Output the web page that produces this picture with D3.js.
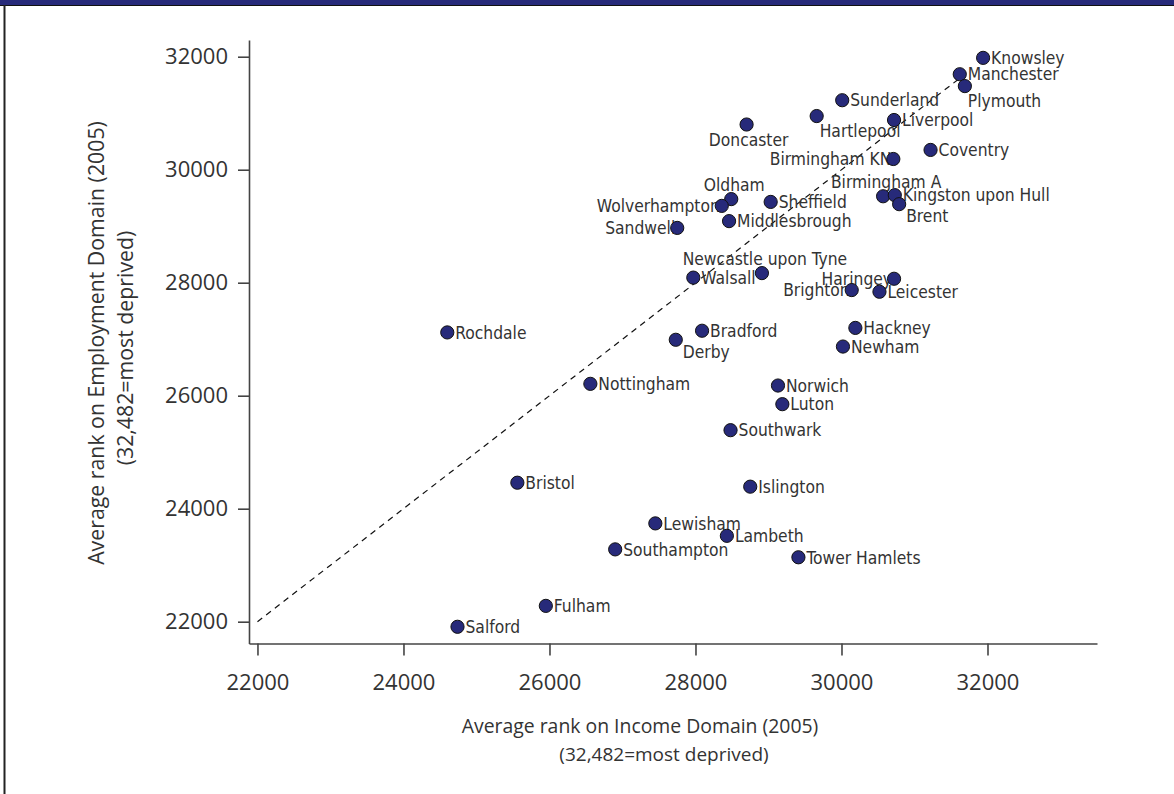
<!DOCTYPE html>
<html lang="en">
<head>
<meta charset="UTF-8">
<script src="https://cdn.jsdelivr.net/npm/d3@7"></script>
<title>Income vs employment rank</title>
<style>
  body { margin: 0; background: #fff; }
  svg { display: block; }
</style>
</head>
<body>
<svg width="1174" height="794"></svg>
<script>
// local authorities, average rank on income (x) and employment (y), 2005
const areas = ['Knowsley', 'Manchester', 'Plymouth', 'Sunderland', 'Hartlepool', 'Liverpool',
  'Doncaster', 'Coventry', 'Birmingham KN', 'Birmingham A', 'Kingston upon Hull', 'Brent',
  'Oldham', 'Wolverhampton', 'Sheffield', 'Middlesbrough', 'Sandwell', 'Newcastle upon Tyne',
  'Walsall', 'Haringey', 'Brighton', 'Leicester', 'Hackney', 'Newham', 'Bradford', 'Derby',
  'Nottingham', 'Norwich', 'Luton', 'Southwark', 'Rochdale', 'Bristol', 'Fulham', 'Salford',
  'Islington', 'Lewisham', 'Lambeth', 'Southampton', 'Tower Hamlets'];
const incomeRank = [31940, 31620, 31690, 30010, 29660, 30720,
  28700, 31220, 30710, 30570, 30730, 30790,
  28490, 28360, 29030, 28460, 27750, 28910,
  27970, 30720, 30140, 30520, 30190, 30020, 28090, 27730,
  26560, 29130, 29190, 28480, 24600, 25560, 25950, 24740,
  28750, 27450, 28430, 26900, 29410];
const employmentRank = [31980, 31690, 31480, 31230, 30950, 30880,
  30800, 30350, 30190, 29530, 29550, 29390,
  29480, 29360, 29430, 29090, 28970, 28170,
  28090, 28070, 27870, 27840, 27200, 26870, 27150, 26990,
  26210, 26180, 25850, 25390, 27120, 24460, 22280, 21910,
  24390, 23740, 23520, 23280, 23140];
const xTicks = [22000, 24000, 26000, 28000, 30000, 32000];
const yTicks = [22000, 24000, 26000, 28000, 30000, 32000];
// 45 degree reference line
const diagonal = [22000, 31650];

// label clock positions (default 3 = right of marker)
const labelClock = {
  'Plymouth': 5, 'Hartlepool': 5, 'Doncaster': 6, 'Brent': 4, 'Derby': 4,
  'Birmingham KN': 9, 'Wolverhampton': 9, 'Sandwell': 9, 'Haringey': 9, 'Brighton': 9,
  'Birmingham A': 12, 'Oldham': 12, 'Newcastle upon Tyne': 12
};
const clockOffset = {
  3: { dx: 8, dy: 0, anchor: 'start' },
  4: { dx: 7, dy: 12, anchor: 'start' },
  5: { dx: 3, dy: 15, anchor: 'start' },
  6: { dx: 2, dy: 15, anchor: 'middle' },
  9: { dx: -2, dy: 0, anchor: 'end' },
  12: { dx: 3, dy: -14, anchor: 'middle' }
};

const svg = d3.select('svg');
const navy = '#272a7a';
const ink = '#333';

// frame: band on top, rule on the left
svg.append('rect').attr('x', 0).attr('y', 0).attr('width', 1174).attr('height', 5).attr('fill', navy);
svg.append('line').attr('x1', 0).attr('x2', 1174).attr('y1', 5.5).attr('y2', 5.5)
  .attr('stroke', '#111').attr('stroke-width', 1);
svg.append('line').attr('x1', 4.5).attr('x2', 4.5).attr('y1', 5).attr('y2', 794)
  .attr('stroke', '#222').attr('stroke-width', 2);

const xScale = d3.scaleLinear().domain([21884, 33500]).range([249, 1097]);
const yScale = d3.scaleLinear().domain([21614, 32296]).range([643.5, 40]);

const xAxis = d3.axisBottom(xScale).tickValues(xTicks).tickSize(12).tickSizeOuter(0)
  .tickPadding(19).tickFormat(d3.format('d'));
const yAxis = d3.axisLeft(yScale).tickValues(yTicks).tickSize(11).tickSizeOuter(0)
  .tickPadding(10).tickFormat(d3.format('d'));

const gx = svg.append('g').attr('transform', 'translate(0,643.5)').call(xAxis);
const gy = svg.append('g').attr('transform', 'translate(249,0)').call(yAxis);
[gx, gy].forEach(g => {
  g.select('.domain').attr('stroke', '#444').attr('stroke-width', 1.6);
  g.selectAll('.tick line').attr('stroke', '#444').attr('stroke-width', 1.6);
  g.selectAll('.tick text').attr('fill', ink)
    .style('font-family', '"Open Sans", sans-serif').style('font-size', '22px');
});

// axis titles
const titleFont = '"Open Sans", sans-serif';
svg.append('text').attr('x', 640).attr('y', 733).attr('text-anchor', 'middle')
  .attr('fill', ink).style('font-family', titleFont).style('font-size', '19.4px')
  .text('Average rank on Income Domain (2005)');
svg.append('text').attr('x', 664).attr('y', 761).attr('text-anchor', 'middle')
  .attr('fill', ink).style('font-family', titleFont).style('font-size', '19px')
  .text('(32,482=most deprived)');
svg.append('text').attr('transform', 'translate(104,343) rotate(-90)').attr('text-anchor', 'middle')
  .attr('fill', ink).style('font-family', titleFont).style('font-size', '21.3px')
  .text('Average rank on Employment Domain (2005)');
svg.append('text').attr('transform', 'translate(132.5,348) rotate(-90)').attr('text-anchor', 'middle')
  .attr('fill', ink).style('font-family', titleFont).style('font-size', '21.3px')
  .text('(32,482=most deprived)');

// reference line
svg.append('line')
  .attr('x1', xScale(diagonal[0])).attr('y1', yScale(diagonal[0]))
  .attr('x2', xScale(diagonal[1])).attr('y2', yScale(diagonal[1]))
  .attr('stroke', '#111').attr('stroke-width', 1.2).attr('stroke-dasharray', '6,5');

const points = areas.map((name, i) => ({ name, x: incomeRank[i], y: employmentRank[i] }));

// marker labels
svg.append('g').selectAll('text').data(points).join('text')
  .attr('x', d => xScale(d.x) + clockOffset[labelClock[d.name] || 3].dx)
  .attr('y', d => yScale(d.y) + clockOffset[labelClock[d.name] || 3].dy)
  .attr('dy', '0.36em')
  .attr('text-anchor', d => clockOffset[labelClock[d.name] || 3].anchor)
  .attr('fill', ink)
  .style('font-family', '"DejaVu Sans Condensed", "DejaVu Sans", sans-serif')
  .style('font-stretch', 'condensed')
  .style('font-size', '17.3px')
  .text(d => d.name);

// markers
svg.append('g').selectAll('circle').data(points).join('circle')
  .attr('cx', d => xScale(d.x))
  .attr('cy', d => yScale(d.y))
  .attr('r', 6.6)
  .attr('fill', navy)
  .attr('stroke', '#111')
  .attr('stroke-width', 1);
</script>
</body>
</html>
